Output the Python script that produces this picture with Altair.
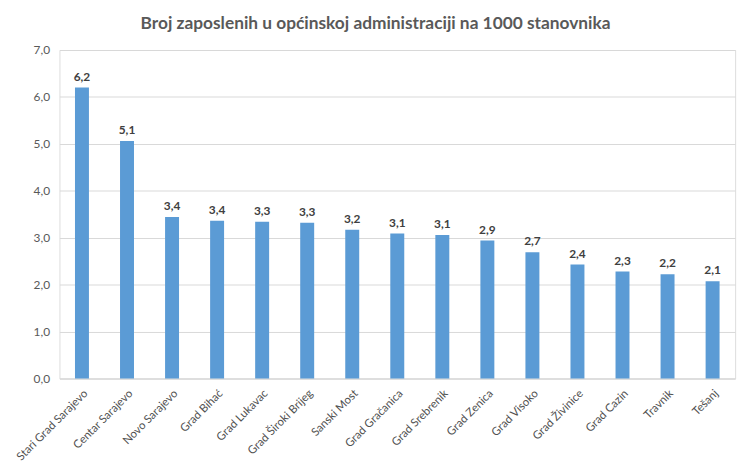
import altair as alt
import pandas as pd

categories = ["Stari Grad Sarajevo", "Centar Sarajevo", "Novo Sarajevo", "Grad Bihać",
              "Grad Lukavac", "Grad Široki Brijeg", "Sanski Most", "Grad Gračanica",
              "Grad Srebrenik", "Grad Zenica", "Grad Visoko", "Grad Živinice",
              "Grad Cazin", "Travnik", "Tešanj"]
values = [6.2, 5.06, 3.44, 3.36, 3.34, 3.32, 3.17, 3.09, 3.06, 2.94, 2.69, 2.43, 2.28, 2.22, 2.07]

df = pd.DataFrame({"opcina": categories, "vrijednost": values})

FONT = "Lato"
GRAY = "#595959"

base = alt.Chart(df).encode(
    x=alt.X("opcina:N", sort=categories,
            scale=alt.Scale(paddingInner=0.69, paddingOuter=0.345),
            axis=alt.Axis(title=None, labelAngle=-45, labelFontSize=11.5, labelFont=FONT,
                          labelColor="#505050", ticks=False, domainColor="#d9d9d9",
                          labelPadding=9)),
    y=alt.Y("vrijednost:Q", scale=alt.Scale(domain=[0, 7], nice=False),
            axis=alt.Axis(title=None, values=[0, 1, 2, 3, 4, 5, 6, 7],
                          labelExpr="replace(format(datum.value,'.1f'),'.',',')",
                          labelFontSize=12, labelFont=FONT, labelColor=GRAY,
                          ticks=False, domain=False, gridColor="#d9d9d9",
                          labelPadding=10)),
)

bars = base.mark_bar(color="#5B9BD5")
labels = base.transform_calculate(
    lbl="replace(format(datum.vrijednost,'.1f'),'.',',')"
).mark_text(dy=-11, fontSize=12, fontWeight="bold", font=FONT, color="#404040").encode(
    text="lbl:N")

chart = (bars + labels).properties(
    width=683, height=332,
    autosize=alt.AutoSizeParams(type="none"),
    padding={"left": 52, "top": 40, "right": 11, "bottom": 87},
    title=alt.TitleParams("Broj zaposlenih u općinskoj administraciji na 1000 stanovnika",
                          font=FONT, fontSize=17.5, fontWeight="bold", color=GRAY,
                          anchor="middle", dx=-22, offset=12),
).configure_view(stroke=None).configure(background="white")

chart.save("out.html", embed_options={"renderer": "svg", "actions": False})
